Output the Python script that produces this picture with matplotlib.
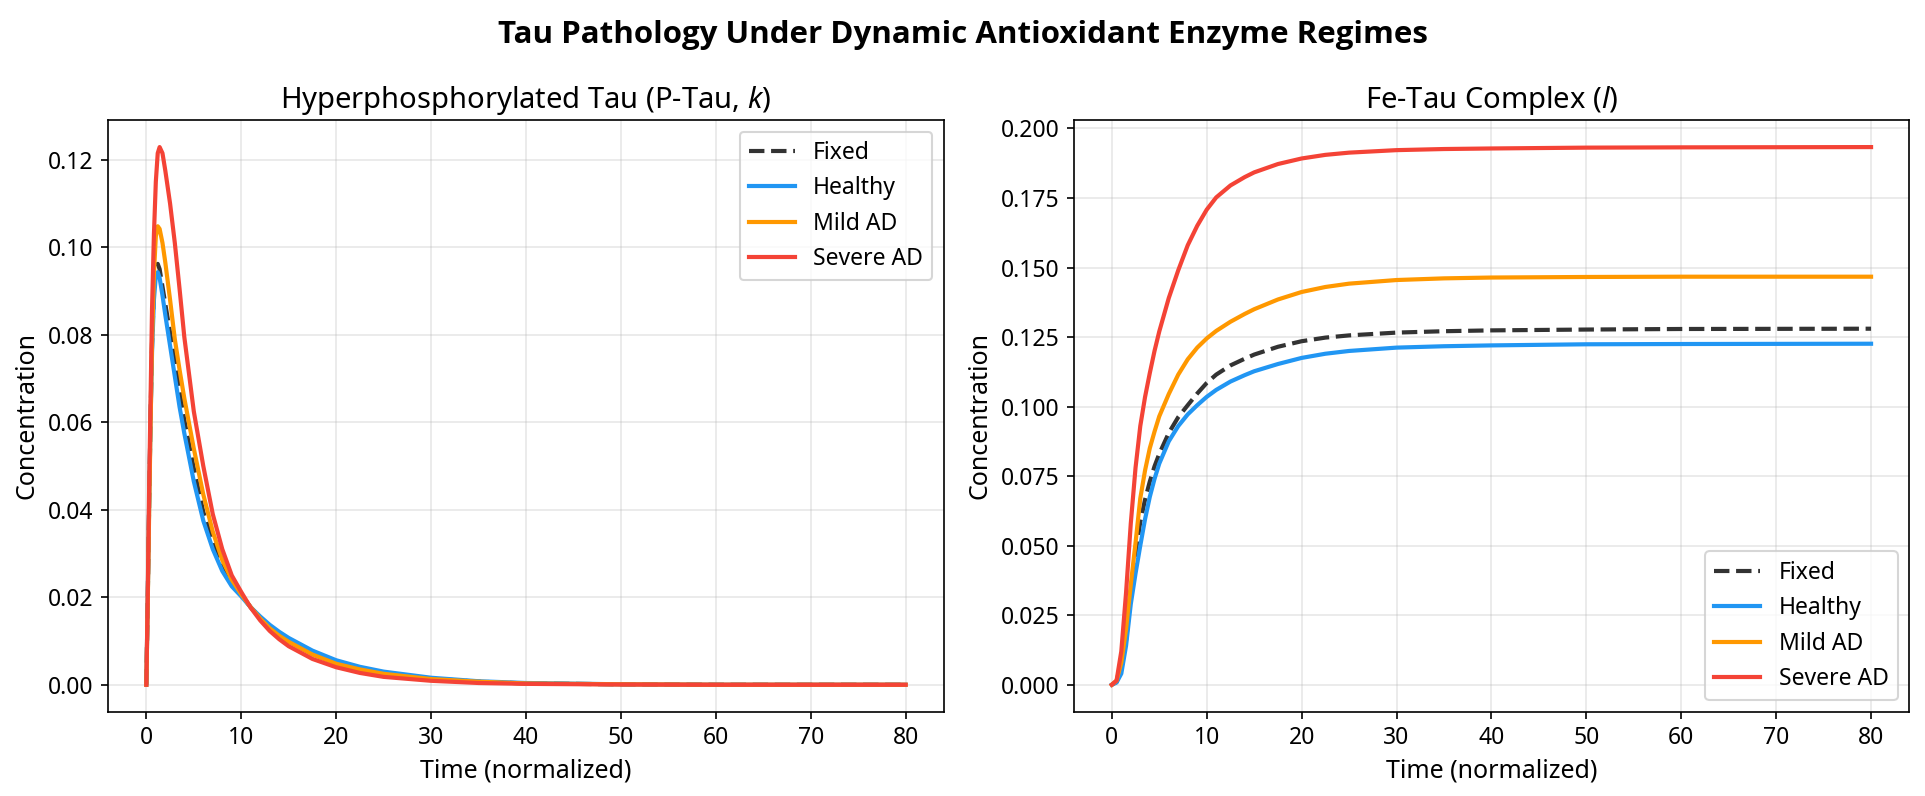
import matplotlib
matplotlib.use("Agg")
import matplotlib.pyplot as plt

plt.rcParams["font.family"] = ["Noto Sans", "DejaVu Sans"]
plt.rcParams["mathtext.fontset"] = "custom"
plt.rcParams["mathtext.rm"] = "Noto Sans"
plt.rcParams["mathtext.it"] = "Noto Sans:italic"

# Hyperphosphorylated tau (k)
t_k = [0, 0.15, 0.3, 0.45, 0.6, 0.8, 1.0, 1.2, 1.4, 1.7, 2.0, 2.5, 3.0, 3.5, 4.0,
       5.0, 6.0, 7.0, 8.0, 9.0, 10.0, 11.0, 12.0, 13.0, 14.0, 15.0, 17.5, 20.0,
       22.5, 25.0, 30.0, 35.0, 40.0, 50.0, 60.0, 80.0]
k_fixed = [0, 0.020, 0.042, 0.062, 0.078, 0.090, 0.0955, 0.0962, 0.0950, 0.0910, 0.0870,
           0.0805, 0.0740, 0.0672, 0.0605, 0.0495, 0.0395, 0.0325, 0.0270, 0.0232, 0.0205,
           0.0177, 0.0153, 0.0133, 0.0115, 0.0100, 0.0072, 0.0051, 0.0036, 0.0026, 0.0014,
           0.0007, 0.0003, 0.0001, 0.0, 0.0]
k_healthy = [0, 0.020, 0.042, 0.061, 0.076, 0.088, 0.0935, 0.0943, 0.0930, 0.0890, 0.0845,
             0.0775, 0.0705, 0.0635, 0.0575, 0.0465, 0.0375, 0.0310, 0.0260, 0.0225, 0.0202,
             0.0177, 0.0156, 0.0137, 0.0121, 0.0107, 0.0078, 0.0056, 0.0041, 0.0030, 0.0016,
             0.0008, 0.0004, 0.0001, 0.0, 0.0]
k_mild = [0, 0.019, 0.040, 0.060, 0.078, 0.094, 0.1025, 0.1048, 0.1042, 0.1010, 0.0965,
          0.0880, 0.0790, 0.0720, 0.0655, 0.0540, 0.0435, 0.0350, 0.0285, 0.0240, 0.0207,
          0.0177, 0.0151, 0.0129, 0.0112, 0.0098, 0.0069, 0.0048, 0.0035, 0.0025, 0.0013,
          0.0007, 0.0003, 0.0001, 0.0, 0.0]
k_severe = [0, 0.021, 0.046, 0.066, 0.086, 0.103, 0.115, 0.1215, 0.1229, 0.1215, 0.1175,
            0.1100, 0.1010, 0.0905, 0.0795, 0.0625, 0.0500, 0.0390, 0.0310, 0.0250, 0.0212,
            0.0176, 0.0147, 0.0123, 0.0104, 0.0088, 0.0059, 0.0040, 0.0027, 0.0018, 0.0009,
            0.0004, 0.0002, 0.00005, 0.0, 0.0]

# Fe-Tau complex (l)
t_l = [0, 0.5, 1.0, 1.5, 2.0, 2.5, 3.0, 3.5, 4.0, 4.5, 5.0, 6.0, 7.0, 8.0, 9.0, 10.0,
       11.0, 12.5, 14.0, 15.0, 17.5, 20.0, 22.5, 25.0, 30.0, 35.0, 40.0, 50.0, 60.0, 80.0]
l_fixed = [0, 0.001, 0.006, 0.016, 0.032, 0.047, 0.0585, 0.0665, 0.0730, 0.0785, 0.0830,
           0.0905, 0.0962, 0.1005, 0.1047, 0.1085, 0.1115, 0.1148, 0.1172, 0.1187, 0.1215,
           0.1235, 0.1248, 0.1256, 0.1266, 0.1271, 0.1274, 0.1277, 0.1279, 0.1280]
l_healthy = [0, 0.0008, 0.004, 0.014, 0.029, 0.040, 0.0500, 0.0595, 0.0675, 0.0740, 0.0795,
             0.0875, 0.0930, 0.0972, 0.1005, 0.1035, 0.1060, 0.1090, 0.1113, 0.1127, 0.1153,
             0.1175, 0.1190, 0.1200, 0.1212, 0.1217, 0.1220, 0.1224, 0.1225, 0.1226]
l_mild = [0, 0.0015, 0.008, 0.020, 0.036, 0.051, 0.067, 0.077, 0.085, 0.091, 0.0965,
          0.1045, 0.1115, 0.1170, 0.1212, 0.1245, 0.1272, 0.1305, 0.1333, 0.1350, 0.1385,
          0.1412, 0.1430, 0.1442, 0.1455, 0.1461, 0.1464, 0.1466, 0.1467, 0.1467]
l_severe = [0, 0.0015, 0.012, 0.033, 0.058, 0.078, 0.093, 0.1034, 0.112, 0.120, 0.127,
            0.139, 0.149, 0.158, 0.165, 0.1708, 0.1752, 0.1795, 0.1825, 0.1842, 0.1872,
            0.1892, 0.1905, 0.1913, 0.1922, 0.1926, 0.1928, 0.1931, 0.1932, 0.1933]

labels = ["Fixed", "Healthy", "Mild AD", "Severe AD"]
colores = ["#333333", "#2196F3", "#FF9800", "#F44336"]
estilos = ["--", "-", "-", "-"]

fig, axes = plt.subplots(1, 2, figsize=(1925 / 150, 796 / 150), dpi=150)
fig.subplots_adjust(left=0.0563, right=0.9917, top=0.849, bottom=0.106, wspace=0.156)

paneles = [
    (axes[0], t_k, [k_fixed, k_healthy, k_mild, k_severe],
     "Hyperphosphorylated Tau (P-Tau, $k$)", "upper right"),
    (axes[1], t_l, [l_fixed, l_healthy, l_mild, l_severe],
     "Fe-Tau Complex ($l$)", "lower right"),
]

for ax, t, series, titulo, loc in paneles:
    for y, lab, col, ls in zip(series, labels, colores, estilos):
        ax.plot(t, y, ls, color=col, lw=2, label=lab)
    ax.set_title(titulo, fontsize=14)
    ax.set_xlabel("Time (normalized)", fontsize=12)
    ax.set_ylabel("Concentration", fontsize=12)
    ax.tick_params(labelsize=11)
    ax.grid(True, alpha=0.3)
    ax.legend(loc=loc, fontsize=11)

fig.suptitle("Tau Pathology Under Dynamic Antioxidant Enzyme Regimes",
             fontsize=15, fontweight="bold", family=["Open Sans", "DejaVu Sans"], y=0.975)
fig.savefig("out.png", dpi=150)
